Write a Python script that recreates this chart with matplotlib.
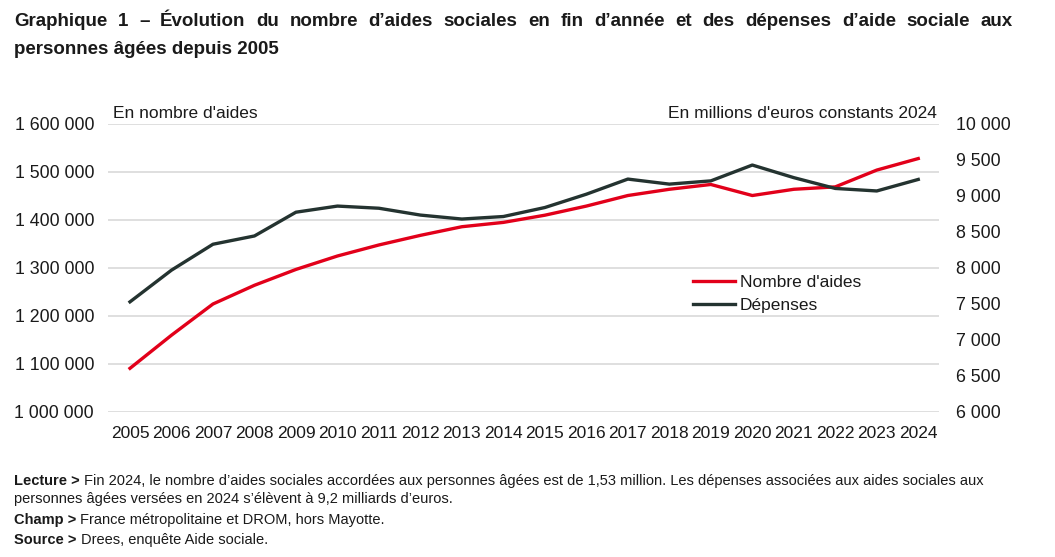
import matplotlib
matplotlib.use("Agg")
import matplotlib.pyplot as plt

years = list(range(2005, 2025))
nombre_aides = [1091000, 1160000, 1225000, 1264000, 1297000, 1325000, 1348000, 1368000,
                1386000, 1395000, 1410000, 1429000, 1451000, 1464000, 1474000, 1451000,
                1464000, 1469000, 1504000, 1528000]
depenses = [7530, 7970, 8330, 8445, 8775, 8860, 8830, 8735, 8680, 8715, 8840, 9025,
            9235, 9165, 9210, 9430, 9255, 9105, 9070, 9230]
left_ticks = [1000000, 1100000, 1200000, 1300000, 1400000, 1500000, 1600000]
right_ticks = [6000, 6500, 7000, 7500, 8000, 8500, 9000, 9500, 10000]

RED = "#E2001A"
DARK = "#243330"
GRID = "#D9D9D9"
TXT = "#1a1a1a"

plt.rcParams['font.family'] = ['Liberation Sans', 'DejaVu Sans']
narrow = ['Liberation Sans Narrow', 'Liberation Sans', 'DejaVu Sans']

W, H = 1055, 557
fig = plt.figure(figsize=(W / 100, H / 100), dpi=100)
ax = fig.add_axes([108 / W, 1 - 412 / H, (939 - 108) / W, (412 - 124) / H])
ax2 = ax.twinx()

l1, = ax.plot(years, nombre_aides, color=RED, lw=2.4, label="Nombre d'aides", zorder=3)
l2, = ax2.plot(years, depenses, color=DARK, lw=2.4, label="Dépenses", zorder=3)

ax.set_xlim(2004.47, 2024.5)
ax.set_ylim(1000000, 1600000)
ax2.set_ylim(6000, 10000)
ax.set_xticks(years)
ax.set_xticklabels([str(y) for y in years], fontsize=12.5, color=TXT)
ax.set_yticks(left_ticks)
ax.set_yticklabels([f"{v:,}".replace(",", " ") for v in left_ticks], fontsize=12.8, color=TXT)
ax2.set_yticks(right_ticks)
ax2.set_yticklabels([f"{v:,}".replace(",", " ") for v in right_ticks], fontsize=12.8, color=TXT)
ax.tick_params(axis='both', length=0)
ax.tick_params(axis='x', pad=10)
ax.tick_params(axis='y', pad=10)
ax2.tick_params(axis='y', length=0, pad=12)
ax.grid(axis='y', color=GRID, lw=1.2)
ax.set_axisbelow(True)
for a in (ax, ax2):
    for s in a.spines.values():
        s.set_visible(False)

ax.text(113 / W, 1 - 114 / H, "En nombre d'aides", transform=fig.transFigure,
        fontsize=12.5, color=TXT, va='center', ha='left')
ax.text(937 / W, 1 - 113 / H, "En millions d'euros constants 2024", transform=fig.transFigure,
        fontsize=12.5, color=TXT, va='center', ha='right')

leg = ax2.legend(handles=[l1, l2], loc='upper left', bbox_to_anchor=(693 / W, 1 - 275 / H),
                 bbox_transform=fig.transFigure, frameon=False, fontsize=12.5,
                 handlelength=2.4, handletextpad=0.3, borderpad=0, borderaxespad=0,
                 labelspacing=0.45)
for t in leg.get_texts():
    t.set_color(TXT)

renderer = fig.canvas.get_renderer()


def justify(line, y, x0, x1, **kw):
    words = line.split(" ")
    arts = [fig.text(0, y, w, **kw) for w in words]
    widths = [a.get_window_extent(renderer).width for a in arts]
    gap = ((x1 - x0) - sum(widths)) / (len(words) - 1)
    x = x0
    for a, w in zip(arts, widths):
        a.set_x(x / W)
        x += w + gap


title_kw = dict(fontsize=13.5, fontweight='bold', family=narrow, color=TXT, va='center')
justify("Graphique 1 – Évolution du nombre d’aides sociales en fin d’année et des dépenses d’aide sociale aux",
        1 - 22 / H, 14, 1013, **title_kw)
fig.text(14 / W, 1 - 50 / H, "personnes âgées depuis 2005", **title_kw)


def note(y, bold, rest):
    b = fig.text(14 / W, 1 - y / H, bold, fontsize=10.5, fontweight='bold', family=narrow,
                 color=TXT, va='center')
    ax.annotate(rest, xy=(1, 0), xycoords=b, xytext=(3, 0), textcoords='offset points',
                fontsize=10.5, family=narrow, color=TXT, va='bottom', ha='left',
                annotation_clip=False)


note(481, "Lecture >", "Fin 2024, le nombre d’aides sociales accordées aux personnes âgées est de 1,53 million. Les dépenses associées aux aides sociales aux")
fig.text(14 / W, 1 - 499 / H, "personnes âgées versées en 2024 s’élèvent à 9,2 milliards d’euros.",
         fontsize=10.5, family=narrow, color=TXT, va='center')
note(520, "Champ >", "France métropolitaine et DROM, hors Mayotte.")
note(540, "Source >", "Drees, enquête Aide sociale.")

fig.savefig("out.png", dpi=100)
